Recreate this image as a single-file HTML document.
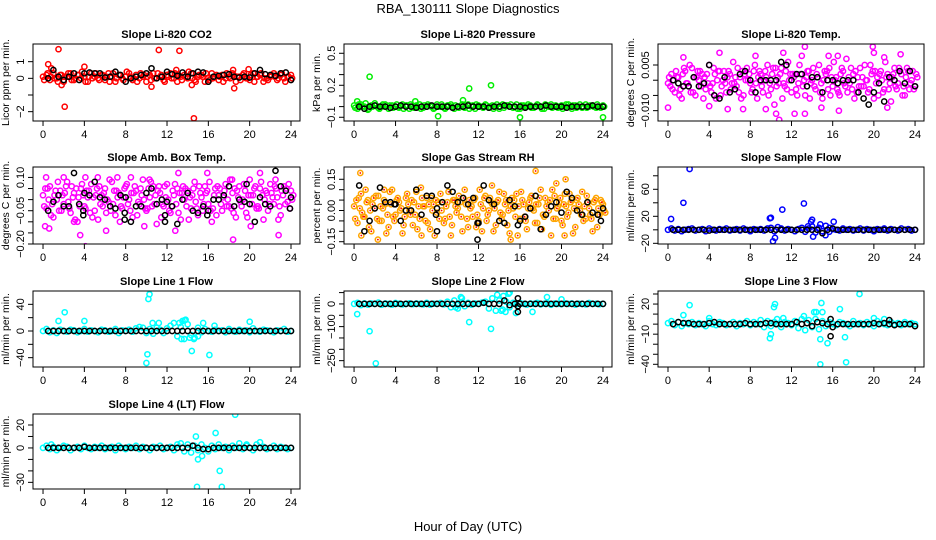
<!DOCTYPE html>
<html><head><meta charset="utf-8"><style>
html,body{margin:0;padding:0;background:#fff;}
svg{display:block;font-family:"Liberation Sans",Arial,sans-serif;}
</style></head><body>
<svg id="chart" width="936" height="540" viewBox="0 0 936 540">
<text x="468" y="13" text-anchor="middle" font-size="13">RBA_130111  Slope Diagnostics</text>
<text x="468" y="531" text-anchor="middle" font-size="13">Hour of Day (UTC)</text>
</svg>
<script>
const xTicks=[0,4,8,12,16,20,24];
// P1 CO2
const co2Band1=[0.1,0.2,-0.1,0.3,0,0.2,-0.2,0.1,0.3,-0.1,0.2,0,0.1,-0.2,0.3,0.1,0,0.2,-0.1,0.3,0.1,-0.2,0.2,0,0.1,0.3,-0.1,0.2,0,0.1,-0.2,0.2,0.3,0,0.1,-0.1,0.2,0.3,0,-0.2,0.1,0.2,0,0.3,-0.1,0.1,0.2,-0.2,0,0.3,0.1,-0.1,0.2,0,0.1,0.3,-0.2,0.1,0.2,0,-0.1,0.3,0.1,0.2,-0.2,0,0.1,0.3,-0.1,0.2,0,0.1,0.2];
const co2Band2=[-0.1,0.3,0.1,0,-0.2,0.2,0.1,0.3,-0.1,0,0.2,0.4,-0.2,0.1,0,0.3,-0.1,0.2,0.1,-0.2,0.3,0,0.2,-0.1,0.4,0.1,0,-0.2,0.3,0.2,0.1,-0.1,0,0.3,0.2,-0.2,0.1,0,0.3,0.2,-0.1,0.1,0.4,0,-0.2,0.2,0.1,0.3,-0.1,0,0.2,0.1,-0.2,0.3,0,0.2,0.1,-0.1,0.3,0,0.2,-0.2,0.1,0.3,0,-0.1,0.2,0.1,0,0.3,-0.2,0.1,0];
const co2Out=[[0.5,0.85],[0.8,0.6],[1.5,1.75],[2.1,-1.7],[1.8,-0.4],[4,0.7],[11.2,1.7],[13.2,1.65],[14.6,-2.4],[14.4,-0.4],[10.5,-0.5],[18.5,-0.6],[19.9,0.55],[18.4,0.5],[12.9,0.5]];
const co2Black=[0,0.5,0.1,-0.1,0.1,0.3,-0.1,0.3,0.35,0.3,0.3,0.05,0.1,0.4,0.2,-0.2,0,0.1,0.2,0.3,0.6,0,0.1,0.4,0.25,0.15,0.35,0.1,0.3,0.4,0.35,-0.2,0.1,0.15,0.2,0.25,0.1,0.05,0.1,0.05,0.3,0.5,0.25,0.2,0.15,0.3,0.35,-0.1];
// P2 Pressure
const presBand1=[0.01,-0.02,0.02,0,-0.03,0.01,0.03,-0.01,0,0.02,-0.02,0.01,0,-0.01,0.02,0.01,-0.02,0,0.01,0.02,-0.01,0,0.01,-0.02,0.02,0,-0.01,0.01,0.02,-0.02,0,0.01,-0.01,0.02,0,-0.02,0.01,0,0.02,-0.01,0.01,0,-0.02,0.02,0.01,0,-0.01,0.02,-0.02,0.01,0,0.01,-0.01,0.02,0,-0.02,0.01,0.02,0,-0.01,0.01,0,0.02,-0.02,0.01,0,-0.01,0.02,0,0.01,-0.01,0,0.01];
const presBand2=[-0.01,0.02,0,0.03,-0.02,0,0.01,-0.02,0.02,0,0.01,-0.01,0.02,0,-0.02,0.01,0.02,-0.01,0,-0.02,0.01,0.02,0,-0.01,0,0.02,-0.02,0.01,0,0.01,-0.01,0.02,0,-0.02,0.01,0.02,0,-0.01,0.01,0,-0.02,0.02,0,-0.01,0.01,0.02,0,-0.02,0.01,0,0.02,-0.01,0,0.01,-0.02,0.02,0,-0.01,0.01,0,-0.02,0.02,0,0.01,-0.01,0.02,0,-0.01,0.01,0,0.02,-0.01,0];
const presOut=[[0.3,0.05],[1.5,0.28],[2.1,0.62],[8.1,-0.09],[10.5,0.06],[11.1,0.17],[13.2,0.2],[16,-0.1],[24,-0.1],[5.9,0.05]];
const presBlack=[0,-0.02,0,0.01,0,0,-0.01,0,0.01,0,0,-0.01,0,0,0.01,0,0,0,-0.01,0,0,0.01,0,0,0,-0.01,0,0,0.01,0,0,0,-0.01,0,0,0,0.01,0,0,0,-0.01,0,0,0,0,0.01,0,0];
// P3 Li-820 Temp
const tempBand1=[-0.001,0.002,-0.004,0.001,-0.006,0.003,-0.002,0.004,-0.005,0,0.002,-0.003,0.005,-0.001,-0.006,0.003,0,-0.004,0.002,0.006,-0.002,0.001,-0.005,0.004,-0.001,0.003,-0.006,0.002,0,0.005,-0.003,-0.008,0.001,0.004,-0.002,0.006,-0.004,0.002,-0.001,0.008,-0.005,0.003,0,-0.003,0.005,-0.006,0.002,0.004,-0.002,0.001,-0.005,0.003,0.007,-0.001,0.002,-0.004,0.004,-0.002,0,0.005,-0.006,0.001,0.003,-0.003,0.002,-0.007,0.004,-0.001,0.002,-0.005,0.003,0,-0.002];
const tempBand2=[0.001,-0.003,0.003,-0.005,0.002,-0.001,0.005,-0.004,0.001,0.003,-0.006,0.002,-0.002,0.004,0,-0.005,0.003,0.001,-0.003,-0.001,0.004,-0.006,0.002,0,-0.004,0.005,0.001,-0.002,0.003,-0.005,0.002,0.004,-0.001,-0.006,0.003,0,0.002,-0.003,0.005,-0.002,0.001,-0.006,0.004,0.002,-0.004,0,0.003,-0.005,0.006,-0.003,0.002,-0.001,-0.004,0.004,-0.006,0.001,-0.002,0.005,-0.004,0.002,0.003,-0.005,0,0.006,-0.003,0.001,-0.002,0.004,-0.005,0.001,-0.003,0.003,0.002];
const tempBand3=[-0.002,0,0.001,-0.003,0.004,-0.001,-0.004,0.001,0.003,-0.002,0.001,-0.001,-0.004,0.002,0.003,-0.002,-0.001,0.003,-0.001,0.001,-0.004,0.003,0,0.002,-0.003,-0.001,0.003,-0.004,0.001,-0.001,0.004,-0.002,0.002,-0.001,-0.003,0.002,0.001,-0.005,0.002,0,0.003,-0.001,-0.002,0.001,-0.001,0.003,-0.003,0.001,0,-0.004,0.004,-0.002,0.001,-0.003,0.003,-0.002,0.001,0,-0.003,0.003,-0.001,0.002,-0.004,0.001,-0.001,0.002,-0.003,0.003,-0.002,0.004,-0.001,-0.003,0.001];
const tempOut=[[0,-0.009],[1.5,0.0075],[5,0.009],[8.5,0.008],[10.8,-0.013],[10.5,-0.011],[11.2,0.009],[12.3,-0.011],[13.3,0.011],[13.3,-0.011],[14.9,-0.009],[15.6,0.008],[16.5,0.008],[16.6,-0.01],[19.9,0.011],[20,0.009],[21,0.0075],[22.6,0.0085],[4,-0.0085],[7.3,-0.0095],[9.5,-0.0095],[21.3,-0.009],[5.8,-0.0095]];
const tempBlack=[0,-0.001,-0.002,-0.002,0.001,-0.002,-0.001,0.005,-0.005,-0.006,0.001,-0.004,-0.003,0.002,0.003,0,-0.004,0,0,0,0,0.006,0.005,0,0.002,0.002,-0.002,0.001,0.001,-0.004,0,0,-0.001,0,0,0,-0.004,-0.006,-0.008,-0.004,-0.001,-0.007,0.001,0,0.003,-0.001,0.003,-0.002];
// P4 Amb Box Temp
const ambBand1=[0.02,-0.04,0.06,-0.08,0,0.04,-0.02,0.08,-0.06,0.03,-0.1,0.05,-0.03,0.01,0.07,-0.05,-0.09,0.02,0.05,-0.01,0.08,-0.07,0.03,-0.04,0.06,0,-0.08,0.04,-0.02,0.09,-0.05,0.01,0.06,-0.11,0.03,-0.03,0.07,-0.06,0.02,0.05,-0.09,0,0.04,-0.04,0.08,-0.07,0.01,0.06,-0.02,-0.1,0.05,0.02,-0.05,0.07,-0.03,0.03,-0.08,0.06,0,-0.06,0.09,0.02,-0.04,0.05,-0.09,0.03,0.07,-0.02,0.01,-0.07,0.06,-0.01,0.04];
const ambBand2=[-0.03,0.05,-0.07,0.02,0.08,-0.05,0.03,-0.01,0.06,-0.09,0.01,0.07,-0.04,0.04,-0.08,0.02,0.06,-0.03,-0.06,0.09,-0.02,0.04,-0.1,0.01,0.07,-0.05,0.03,-0.07,0.05,0,-0.04,0.08,-0.02,0.04,-0.08,0.06,0,-0.03,0.07,-0.06,0.03,0.05,-0.09,0.02,-0.01,0.06,-0.05,0.03,0.08,-0.04,-0.07,0.05,0.01,-0.03,0.09,-0.06,0.04,-0.01,0.07,-0.08,0.02,0.05,-0.03,0.08,0,-0.05,0.03,0.06,-0.09,0.04,-0.02,0.07,0];
const ambBand3=[0.05,0,-0.02,0.04,-0.05,0.02,0.06,-0.04,0.01,0.05,-0.03,0.02,0.04,-0.06,0.01,0.05,-0.02,0.03,0,-0.05,0.04,0.01,-0.03,0.05,-0.02,0.03,0.06,-0.01,0.02,-0.04,0.05,-0.03,0.02,0.06,-0.02,0.01,-0.05,0.04,-0.02,0.03,0.06,-0.03,0.01,0.05,-0.04,0.03,-0.02,0.04,-0.05,0.02,0.06,-0.02,0.04,0,-0.04,0.05,0.01,-0.03,0.04,0.02,-0.02,0.06,-0.04,0.02,0.04,-0.02,0.01,0.05,-0.03,0.02,0.05,-0.04,0.02];
const ambOut=[[0.2,-0.12],[0.6,-0.13],[0.3,0.1],[2,0.1],[3,-0.1],[3.6,-0.16],[4.1,-0.21],[4.1,0.1],[5.3,0.1],[6.1,-0.14],[7.2,0.1],[8.5,0.1],[10.3,0.09],[12.8,-0.14],[13.1,0.12],[15.9,0.12],[18.4,-0.18],[18.3,0.09],[21,0.12],[20.1,-0.12],[22.8,-0.16],[22.5,0.09],[9.8,-0.12]];
const ambBlack=[-0.05,-0.01,0.02,-0.03,-0.03,0.12,-0.02,0.03,0.02,0.08,0.01,0,-0.03,-0.04,0.02,0.01,-0.1,-0.03,-0.03,0.03,0.05,-0.02,0,-0.01,-0.03,-0.11,0,0.03,-0.05,-0.06,-0.03,-0.05,0,0,0.02,0.06,-0.03,0,-0.01,-0.02,-0.1,0.01,-0.02,-0.03,0.13,0.06,0.04,0.01];
const ambBlackExtra=[[3.9,-0.05],[3.9,-0.07],[7.9,-0.09],[7.9,-0.06],[11.8,-0.07],[11.8,-0.1],[15.9,-0.07],[19.7,0.07],[23.9,-0.04]];
// P5 Gas stream RH
const rhBand1=[0.02,-0.06,0.08,-0.03,0.05,-0.1,0.01,0.07,-0.05,0.03,-0.08,0.1,-0.02,0.04,-0.11,0.06,0,-0.07,0.09,-0.04,0.02,0.06,-0.09,0.03,-0.01,0.08,-0.06,0.04,-0.12,0.05,0.01,-0.03,0.1,-0.08,0.02,0.06,-0.05,-0.1,0.07,0,0.03,-0.07,0.09,-0.02,0.05,-0.11,0.01,0.08,-0.04,0.03,-0.09,0.06,0,-0.06,0.1,-0.03,0.04,-0.12,0.07,0.02,-0.05,0.08,-0.01,0.05,-0.08,0.03,0.09,-0.04,0.01,-0.1,0.06,-0.02,0.03];
const rhBand2=[-0.04,0.06,-0.01,0.1,-0.08,0.03,0.07,-0.05,0.01,-0.11,0.09,-0.03,0.05,0,-0.07,0.08,-0.02,0.04,-0.09,0.11,0.02,-0.06,0.06,-0.12,0.04,0,-0.04,0.09,-0.07,0.02,0.07,-0.1,0.03,0.05,-0.03,-0.08,0.1,0.01,-0.05,0.06,-0.1,0.04,-0.01,0.08,-0.07,0.02,0.05,-0.12,0.09,-0.03,0.01,0.07,-0.06,0.03,-0.09,0.06,0,0.1,-0.04,0.04,-0.07,0.02,0.08,-0.11,0.05,0,-0.05,0.07,-0.02,0.04,-0.08,0.05,0];
const rhBand3=[0.05,0.01,-0.03,0.04,0,0.06,-0.04,0.02,0.05,-0.02,0.03,-0.05,0.06,0.01,-0.03,0.03,0.05,-0.02,0.02,0.06,-0.05,0.03,0,0.05,-0.04,0.04,0.02,-0.03,0.05,-0.01,0.04,0.06,-0.04,0.01,0.05,-0.02,0.03,0.06,-0.02,0.04,0.01,0.05,-0.04,0.03,0,0.06,-0.03,0.02,0.05,-0.05,0.04,0.01,0.03,0.06,-0.02,0.02,0.05,-0.04,0.01,0.06,0.03,-0.03,0.04,0.01,0.06,-0.02,0.02,0.04,-0.04,0.05,0.01,0.04,-0.01];
const rhOut=[[0.6,0.18],[0.7,-0.12],[2.3,-0.14],[15.1,-0.14],[17.5,0.19],[20.4,0.15],[19.5,0.13],[20.3,-0.12],[6.5,-0.12],[2.9,0.1],[13.3,0.12]];
const rhBlack=[0.12,-0.1,-0.05,0.01,0.11,0.04,0.04,0.03,-0.05,0,0,0.1,-0.02,0.07,0.07,0.01,0.04,0.12,0.09,0.04,0.06,0.03,0.06,-0.06,0.12,0.05,0.03,-0.05,-0.06,0.05,0.02,-0.05,-0.03,0.01,0.07,-0.09,-0.02,0.02,0.04,-0.01,0.09,0.06,0,-0.02,0.04,-0.01,-0.02,0.01];
const rhBlackExtra=[[11.9,-0.14],[8,-0.1],[15.8,-0.07],[11.9,-0.06],[23.8,-0.05],[3.9,0.03],[7.9,-0.02]];
// P6 Sample flow
const sfBand=[0,2,-1,1,-2,0,1,2,-1,0,1,-2,2,0,-1,1,0,2,-1,0,1,-1,2,0,-2,1,0,1,-1,2,3,-2,4,2,-1,1,0,-2,1,3,-3,2,5,-4,3,-2,6,-3,1,0,-1,2,0,1,-1,0,2,-1,1,0,-2,1,0,2,-1,1,0,-1,2,0,1,-1,0];
const sfOut=[[0.3,16],[1.5,40],[2.1,90],[9.9,17],[10,18],[10.2,-17],[10.4,-12],[11.1,30],[13.2,39],[13.9,12],[14,15],[13.6,5],[14.1,-10],[14.8,8],[15.3,-8],[16.1,12],[15.7,3]];
const sfBlack=[0,0,0,0,0,0,0,-1,0,0,0,0,0,0,0,0,0,0,0,0,0,0,0,0,0,0,0,0,0,-5,0,2,0,0,0,0,0,0,0,0,0,0,0,0,0,0,0,0];
// P7 Line 1 flow
const l1Band=[0,3,-2,1,-3,2,0,-1,2,1,-2,0,3,-1,1,0,-2,2,1,-1,0,3,-3,1,0,2,-1,4,6,5,-3,3,-4,5,2,-3,4,8,12,-8,6,-12,10,-6,-10,5,-2,3,0,-1,2,0,1,-2,3,0,-1,2,0,1,-2,4,0,-1,2,1,0,-2,1,0,3,-1,0];
const l1Out=[[1.5,15],[2.1,28],[4,15],[10,-48],[10.1,-35],[10.2,48],[10.3,55],[10.6,12],[11.2,12],[13.2,12],[13.5,15],[13.7,16],[13.8,17],[13.4,-12],[14.4,-30],[15.5,12],[16.1,-36],[20,14],[16.6,8],[14.2,-10],[14.6,-12],[15,-8]];
const l1Black=[0,0,0,0,0,0,0,0,0,0,0,0,0,0,0,0,0,0,0,0,0,0,0,0,0,0,0,0,0,0,0,0,0,0,0,0,0,0,0,0,0,0,0,0,0,0,0,0];
// P8 Line 2 flow
const l2Band=[0,5,-5,3,-3,2,0,6,-4,2,0,-3,4,1,-2,0,3,-1,2,0,-2,5,-3,1,0,4,-2,10,-15,15,-5,8,-10,5,-3,2,0,6,10,-20,25,-30,15,-25,10,-15,5,-2,4,0,-3,2,0,5,-2,1,3,-4,2,0,-1,3,0,2,-3,1,0,-2,4,0,1,-1,0];
const l2Out=[[0.3,-45],[1.5,-120],[2.1,-262],[11.1,-80],[13.2,-110],[10.3,30],[10.4,25],[13.8,40],[14.4,35],[14.9,45],[15,50],[14.2,-30],[14.6,-35],[15.6,-40],[17.2,-35],[18.6,30],[20,20],[10,-20],[9.8,-15]];
const l2Black=[0,0,0,0,0,0,0,0,0,0,0,0,0,0,0,0,0,0,0,0,0,0,0,0,5,0,0,0,15,-5,0,0,0,0,0,0,0,0,0,0,0,0,0,0,0,0,0,0];
const l2BlackExtra=[[15.8,25],[15.8,-35],[15.8,-10]];
// P9 Line 3 flow
const l3Band=[1,3,-1,2,-2,1,0,2,-1,1,0,-2,3,0,-1,2,1,-1,0,2,-2,1,0,3,-1,2,0,4,-3,3,-2,2,0,-3,2,1,-1,3,-4,5,-6,4,-3,5,-5,3,-2,2,0,-1,2,1,0,-2,3,0,1,-1,2,0,-2,3,1,0,-1,2,0,1,-1,2,0,1,0];
const l3Out=[[1.5,9],[2.1,19],[4,6],[9.9,-14],[10,-10],[10.3,17],[10.4,20],[10.6,5],[11.2,6],[13.2,8],[14.2,12],[14.4,12],[14.8,-15],[14.9,21],[15,12],[14.8,-40],[15.5,-19],[16.7,15],[17.2,-13],[17.3,-38],[18.6,30],[20,6],[21,5]];
const l3Black=[0,2,1,1,0,0,0,1,2,0,0,0,0,0,1,0,0,0,1,1,0,0,0,0,2,0,1,-2,2,1,0,-3,0,0,0,0,0,0,0,1,0,1,0,-1,0,0,0,-2];
const l3BlackExtra=[[15.8,-12],[15.8,5],[21.5,4]];
// P10 Line 4 (LT) flow
const l4Band=[0,2,-1,1,-2,0,2,1,-2,0,1,-1,2,0,-1,1,0,2,-1,0,1,-2,2,0,-1,1,0,2,-1,1,0,-2,1,0,2,-1,0,1,-2,3,4,-3,3,-4,2,-2,3,0,-3,2,-1,3,0,1,-2,2,0,4,-1,2,0,-2,3,0,1,-1,0,2,-1,1,0,-1,0];
const l4Out=[[0.8,3],[14.8,10],[15,-10],[15.4,-7],[14.9,-34],[16.7,13],[17.1,-20],[17.3,-34],[18.6,29],[21,5],[19.7,3]];
const l4Black=[0,0,0,0,0,0,0,1,0,0,0,0,0,0,0,0,0,0,0,0,0,0,0,0,0,0,0,0,2,0,-1,-1,0,0,0,0,0,0,0,0,0,0,0,0,0,0,0,0];

const NS='http://www.w3.org/2000/svg';
const svg=document.getElementById('chart');
function mk(tag,attrs,parent){const e=document.createElementNS(NS,tag);for(const k in attrs)e.setAttribute(k,attrs[k]);(parent||svg).appendChild(e);return e;}

const cols=[[33,300],[344,612],[658,924]];
const rows=[[44,121],[167,244],[291,367],[414,489]];
const XMIN=-0.97,XMAX=24.87;

const panels=[
 {name:'co2',title:'Slope Li-820 CO2',ylab:'Licor ppm per min.',c:0,r:0,ymin:-2.56,ymax:2.06,yt:[-2,-1,0,1],yl:['\u22122','','0','1'],col:'#ff0000',bands:[co2Band1,co2Band2],out:co2Out,blk:co2Black,bx:[]},
 {name:'pressure',title:'Slope Li-820 Pressure',ylab:'kPa per min.',c:1,r:0,ymin:-0.135,ymax:0.587,yt:[-0.1,0,0.1,0.2,0.3,0.4,0.5],yl:['\u22120.1','','','0.2','','','0.5'],col:'#00ee00',bands:[presBand1,presBand2],out:presOut,blk:presBlack,bx:[]},
 {name:'li820-temp',title:'Slope Li-820 Temp.',ylab:'degrees C per min.',c:2,r:0,ymin:-0.0134,ymax:0.0119,yt:[-0.01,-0.005,0,0.005],yl:['\u22120.010','','','0.005'],col:'#ff00ff',bands:[tempBand1,tempBand2,tempBand3],out:tempOut,blk:tempBlack,bx:[]},
 {name:'amb-box-temp',title:'Slope Amb. Box Temp.',ylab:'degrees C per min.',c:0,r:1,ymin:-0.2,ymax:0.147,yt:[-0.2,-0.15,-0.1,-0.05,0,0.05,0.1],yl:['\u22120.20','','','\u22120.05','','','0.10'],col:'#ff00ff',bands:[ambBand1,ambBand2,ambBand3],out:ambOut,blk:ambBlack,bx:ambBlackExtra},
 {name:'gas-stream-rh',title:'Slope Gas Stream RH',ylab:'percent per min.',c:1,r:1,ymin:-0.161,ymax:0.209,yt:[-0.15,-0.1,-0.05,0,0.05,0.1,0.15],yl:['\u22120.15','','','0.00','','','0.15'],col:'#ffa500',dot:'#ff0000',bands:[rhBand1,rhBand2,rhBand3],out:rhOut,blk:rhBlack,bx:rhBlackExtra},
 {name:'sample-flow',title:'Slope Sample Flow',ylab:'ml/min per min.',c:2,r:1,ymin:-21,ymax:93,yt:[-20,0,20,40,60,80],yl:['\u221220','','20','','60',''],col:'#0000ff',bands:[sfBand],out:sfOut,blk:sfBlack,bx:[]},
 {name:'line1-flow',title:'Slope Line 1 Flow',ylab:'ml/min per min.',c:0,r:2,ymin:-54,ymax:60,yt:[-40,-20,0,20,40],yl:['\u221240','','0','','40'],col:'#00ffff',bands:[l1Band],out:l1Out,blk:l1Black,bx:[]},
 {name:'line2-flow',title:'Slope Line 2 Flow',ylab:'ml/min per min.',c:1,r:2,ymin:-278,ymax:57,yt:[-250,-200,-150,-100,-50,0,50],yl:['\u2212250','','','\u2212100','','0',''],col:'#00ffff',bands:[l2Band],out:l2Out,blk:l2Black,bx:l2BlackExtra},
 {name:'line3-flow',title:'Slope Line 3 Flow',ylab:'ml/min per min.',c:2,r:2,ymin:-42.7,ymax:33,yt:[-40,-30,-20,-10,0,10,20,30],yl:['\u221240','','','\u221210','','','20',''],col:'#00ffff',bands:[l3Band],out:l3Out,blk:l3Black,bx:l3BlackExtra},
 {name:'line4-flow',title:'Slope Line 4 (LT) Flow',ylab:'ml/min per min.',c:0,r:3,ymin:-35.8,ymax:29.6,yt:[-30,-20,-10,0,10,20],yl:['\u221230','','','0','','20'],col:'#00ffff',bands:[l4Band],out:l4Out,blk:l4Black,bx:[]}
];

function circ(g,x,y,color,name){
  const c=mk('circle',{cx:x.toFixed(1),cy:y.toFixed(1),r:2.6,fill:'none',stroke:color,'stroke-width':1.5},g);
  
  
  return c;
}

panels.forEach(p=>{
  const L=cols[p.c][0],R=cols[p.c][1],T=rows[p.r][0],B=rows[p.r][1];
  const sx=h=>L+(h-XMIN)/(XMAX-XMIN)*(R-L);
  const sy=v=>B-(v-p.ymin)/(p.ymax-p.ymin)*(B-T);
  const g=mk('g',{});
  
  
  const t=mk('text',{x:(L+R)/2,y:T-6,'text-anchor':'middle','font-size':11,'font-weight':'bold'},g);
  t.textContent=p.title;
  
  
  const cid='clip-'+p.name;
  const cp=mk('clipPath',{id:cid},g);
  mk('rect',{x:L,y:T,width:R-L,height:B-T},cp);
  const pts=mk('g',{'clip-path':'url(#'+cid+')'},g);
  
  
  p.bands.forEach((arr,bi)=>{
    arr.forEach((v,i)=>{
      const h=i*24/(arr.length-1)+bi*0.11;
      circ(pts,sx(h),sy(v),p.col,p.name+'-point');
      if(p.dot){const d=mk('circle',{cx:sx(h).toFixed(1),cy:sy(v).toFixed(1),r:0.9,fill:p.dot},pts);
        
        }
    });
  });
  p.out.forEach(o=>{
    circ(pts,sx(o[0]),sy(o[1]),p.col,p.name+'-outlier');
    if(p.dot){const d=mk('circle',{cx:sx(o[0]).toFixed(1),cy:sy(o[1]).toFixed(1),r:0.9,fill:p.dot},pts);
      
      }
  });
  p.blk.forEach((v,i)=>{circ(pts,sx(0.5+i*0.5),sy(v),'#000',p.name+'-mean-point');});
  p.bx.forEach(o=>{circ(pts,sx(o[0]),sy(o[1]),'#000',p.name+'-mean-point');});
  const bx=mk('rect',{x:L,y:T,width:R-L,height:B-T,fill:'none',stroke:'#000','stroke-width':1},g);
  
  
  xTicks.forEach(h=>{
    const x=sx(h);
    mk('line',{x1:x,y1:B,x2:x,y2:B+5,stroke:'#000'},g);
    const tx=mk('text',{x:x,y:B+17,'text-anchor':'middle','font-size':11},g);
    tx.textContent=h;
    
    
  });
  p.yt.forEach((v,i)=>{
    const y=sy(v);
    mk('line',{x1:L-5,y1:y,x2:L,y2:y,stroke:'#000'},g);
    if(p.yl[i]){
      const ty=mk('text',{x:L-9,y:y,'text-anchor':'middle','font-size':11,transform:`rotate(-90 ${L-9} ${y})`},g);
      ty.textContent=p.yl[i];
      
      
    }
  });
  const yc=(T+B)/2;
  const yt=mk('text',{x:L-24,y:yc,'text-anchor':'middle','font-size':10.5,transform:`rotate(-90 ${L-24} ${yc})`},g);
  yt.textContent=p.ylab;
  
  
});
</script>
</body></html>
